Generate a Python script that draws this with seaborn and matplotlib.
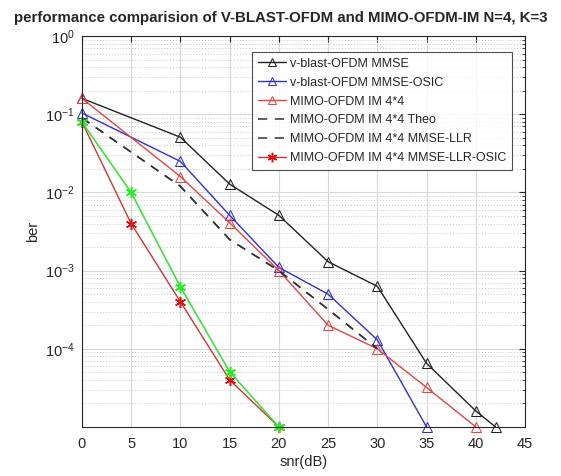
import numpy as np
import pandas as pd
import seaborn as sns
import matplotlib
matplotlib.use("Agg")
import matplotlib.pyplot as plt
from matplotlib.ticker import LogLocator, FixedLocator

# snr points and ber values
snr_vblast = [0, 10, 15, 20, 25, 30, 35, 40, 42]
ber_vblast_mmse = [0.16, 0.051, 0.0128, 0.0051, 0.0013, 6.3e-4, 6.5e-5, 1.6e-5, 1e-5]

snr_osic = [0, 10, 15, 20, 25, 30, 35]
ber_vblast_osic = [0.104, 0.025, 0.0051, 0.0011, 5.0e-4, 1.3e-4, 1e-5]

snr_im = [0, 10, 15, 20, 25, 30, 35, 40]
ber_im = [0.16, 0.016, 0.0041, 0.001, 2.0e-4, 1.0e-4, 3.2e-5, 1e-5]

snr_theo = [0, 10, 15, 20, 25, 30]
ber_theo = [0.09, 0.012, 0.0025, 0.001, 3.2e-4, 1.0e-4]
ber_llr = [0.09, 0.012, 0.0025, 0.001, 3.2e-4, 1.0e-4]

snr_star = [0, 5, 10, 15, 20]
ber_llr_osic = [0.08, 0.004, 4.0e-4, 4.0e-5, 1e-5]
ber_green = [0.08, 0.01, 6.2e-4, 5.1e-5, 1e-5]

sns.set_style("white")
plt.rcParams['font.family'] = ['Liberation Sans', 'DejaVu Sans']
plt.rcParams['mathtext.fontset'] = 'custom'
plt.rcParams['mathtext.rm'] = 'Liberation Sans'
plt.rcParams['mathtext.it'] = 'Liberation Sans'

fig = plt.figure(figsize=(5.61, 4.76), dpi=100)
ax = fig.add_axes([0.146, 0.103, 0.79, 0.821])

tri = dict(marker='^', markersize=7.5, markerfacecolor='none', clip_on=False)
star = dict(marker=(6, 2, 0), markersize=8, markeredgewidth=1.1, clip_on=False)
sns.lineplot(x=snr_vblast, y=ber_vblast_mmse, ax=ax, color='#222222', lw=1,
             markeredgecolor='#222222', label='v-blast-OFDM MMSE', **tri)
sns.lineplot(x=snr_osic, y=ber_vblast_osic, ax=ax, color='#3030c8', lw=1,
             markeredgecolor='#3030c8', label='v-blast-OFDM MMSE-OSIC', **tri)
sns.lineplot(x=snr_im, y=ber_im, ax=ax, color='#e04545', lw=1,
             markeredgecolor='#e04545', label='MIMO-OFDM IM 4*4', **tri)
sns.lineplot(x=snr_theo, y=ber_theo, ax=ax, color='#333333', lw=1.1,
             dashes=False, linestyle=(0, (6, 5)), label='MIMO-OFDM IM 4*4 Theo')
sns.lineplot(x=snr_theo, y=ber_llr, ax=ax, color='#333333', lw=1.1,
             dashes=False, linestyle=(0, (6, 5)), label='MIMO-OFDM IM 4*4 MMSE-LLR')
sns.lineplot(x=snr_star, y=ber_llr_osic, ax=ax, color='#cc3535', lw=1,
             markeredgecolor='#e01010', label='MIMO-OFDM IM 4*4 MMSE-LLR-OSIC', **star)
sns.lineplot(x=snr_star, y=ber_green, ax=ax, color='#40e040', lw=1.2,
             markeredgecolor='#20f020', legend=False, **star)

ax.set_yscale('log')
ax.set_xlim(0, 45)
ax.set_ylim(1e-5, 1)
ax.set_xticks(range(0, 50, 5))
ax.yaxis.set_major_locator(FixedLocator([1e0, 1e-1, 1e-2, 1e-3, 1e-4]))
ax.yaxis.set_minor_locator(LogLocator(base=10, subs=np.arange(2, 10), numticks=20))
ax.set_yticklabels([r'$10^{0}$', r'$10^{-1}$', r'$10^{-2}$', r'$10^{-3}$', r'$10^{-4}$'])

ax.grid(True, which='major', color='#d8d8d8', lw=0.8, ls='-')
ax.grid(True, which='minor', axis='y', color='#c8c8c8', lw=0.7, ls=(0, (1, 2)))
ax.tick_params(axis='both', which='both', direction='in', colors='#262626',
               labelsize=10.5, top=True, right=True, length=4)
ax.tick_params(axis='x', pad=7)
ax.tick_params(axis='y', pad=5)
ax.tick_params(axis='y', which='minor', length=2)
for s in ax.spines.values():
    s.set_color('#262626')
    s.set_linewidth(0.8)

ax.set_xlabel('snr(dB)', fontsize=10.5, color='#262626', labelpad=3)
ax.set_ylabel('ber', fontsize=10.5, color='#262626', labelpad=4)
fig.text(0.5, 0.962, 'performance comparision of V-BLAST-OFDM and MIMO-OFDM-IM N=4, K=3',
         fontsize=10.8, fontweight='bold', ha='center', va='center')

leg = ax.legend(loc='upper right', bbox_to_anchor=(0.971, 0.959), borderaxespad=0,
                fontsize=9.0, frameon=True, fancybox=False, edgecolor='#222222',
                handlelength=2.3, handletextpad=0.3, borderpad=0.45, labelspacing=0.55,
                markerscale=0.85)
leg.get_frame().set_linewidth(0.8)

fig.savefig('out.png', dpi=100)
